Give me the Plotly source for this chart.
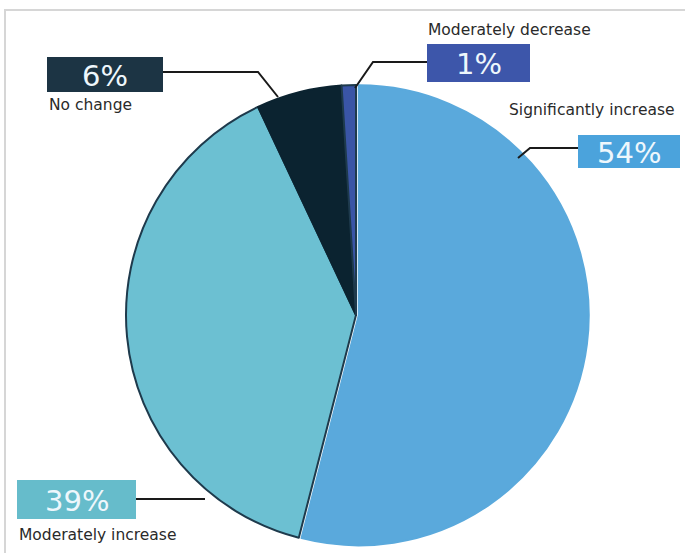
import plotly.graph_objects as go

categories = ["Significantly increase", "Moderately increase", "No change", "Moderately decrease"]
values = [54, 39, 6, 1]
pct_labels = ["54%", "39%", "6%", "1%"]
slice_colors = ["#5aa9dc", "#6cc0d2", "#0b2330", "#3a55a6"]
line_colors = ["#5aa9dc", "#1e3a4c", "#0b2330", "#1e3a4c"]
box_colors = ["#4ba3dc", "#66bccb", "#1c3444", "#3d56aa"]

W, H = 685, 553

def px(x):
    return x / W

def py(y):
    return 1 - y / H

fig = go.Figure()
cx, cy, r = 356, 315, 230
pull = [0.012, 0, 0, 0]
rr = r * 1.012
fig.add_trace(go.Pie(
    labels=categories, values=values, sort=False, direction="clockwise", rotation=0,
    marker=dict(colors=slice_colors, line=dict(color=line_colors, width=2)),
    pull=pull, textinfo="none", hoverinfo="label+percent", showlegend=False,
    domain=dict(x=[px(cx - rr), px(cx + rr)], y=[py(cy + rr), py(cy - rr)]),
))

# label layout: (category index, box x0, x1, y0, y1, name text x, y)
boxes = [
    (2, 47, 163, 57, 92, 47, 105),
    (3, 427, 530, 44, 82, 426, 30),
    (0, 578, 680, 135, 168, 507, 110),
    (1, 17, 136, 480, 519, 17, 535),
]
shapes = []
annotations = []
for idx, x0, x1, y0, y1, tx, ty in boxes:
    shapes.append(dict(type="rect", xref="paper", yref="paper",
                       x0=px(x0), x1=px(x1), y0=py(y1), y1=py(y0),
                       fillcolor=box_colors[idx], line=dict(width=0), layer="below"))
    annotations.append(dict(x=px((x0 + x1) / 2), y=py((y0 + y1) / 2 + 1), xref="paper", yref="paper",
                            text=pct_labels[idx], showarrow=False,
                            font=dict(family="DejaVu Sans", size=29, color="#eef7fc"),
                            xanchor="center", yanchor="middle"))
    annotations.append(dict(x=px(tx), y=py(ty), xref="paper", yref="paper",
                            text=categories[idx], showarrow=False,
                            font=dict(family="DejaVu Sans", size=15.5, color="#2a2a2a"),
                            xanchor="left", yanchor="middle"))

leaders = [
    [(163, 72), (258, 72), (278, 97)],
    [(427, 62), (373, 62), (355, 88)],
    [(578, 148), (530, 148), (518, 158)],
    [(136, 499), (205, 499)],
]
for pts in leaders:
    path = "M " + " L ".join(f"{px(x)},{py(y)}" for x, y in pts)
    shapes.append(dict(type="path", xref="paper", yref="paper", path=path,
                       line=dict(color="#1a1a1a", width=2)))

# frame
shapes.append(dict(type="path", xref="paper", yref="paper",
                   path=f"M {px(5)},{py(553)} L {px(5)},{py(10)} L {px(685)},{py(10)}",
                   line=dict(color="#d6d6d6", width=2)))

fig.update_layout(width=W, height=H, margin=dict(l=0, r=0, t=0, b=0),
                  paper_bgcolor="white", plot_bgcolor="white",
                  shapes=shapes, annotations=annotations)
fig.write_html("out.html")
